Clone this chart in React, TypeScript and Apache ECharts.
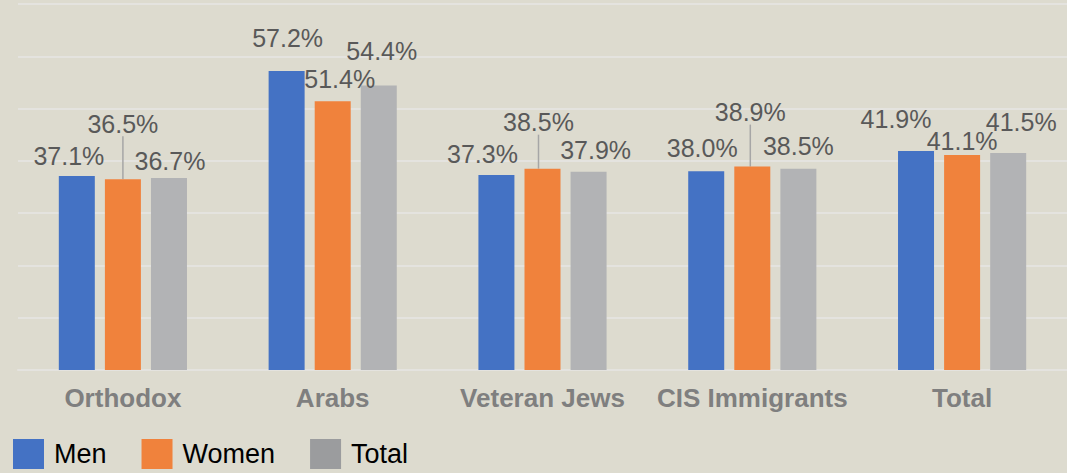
import React, { useEffect, useRef } from "react";
import * as echarts from "echarts";

const categories = ["Orthodox", "Arabs", "Veteran Jews", "CIS Immigrants", "Total"];
const seriesNames = ["Men", "Women", "Total"];
const menValues = [37.1, 57.2, 37.3, 38.0, 41.9];
const womenValues = [36.5, 51.4, 38.5, 38.9, 41.1];
const totalValues = [36.7, 54.4, 37.9, 38.5, 41.5];

// label nudges (dx, dy) per bar, as moved by hand in the original
const menLabelNudge = [[-8, -3], [1, -15], [-14, -3], [-4, -6], [-20, -14]];
const womenLabelNudge = [[0, -38], [7, -5], [-4, -29], [-2, -37], [0, 3]];
const totalLabelNudge = [[1, 0], [3, -17], [7, -4], [0, -5], [13, -14]];
const womenLeader = [true, false, true, true, false];

const barColors = ["#4472c4", "#f0823c", "#b2b3b5"];
const legendColors = ["#4472c4", "#f0823c", "#9b9c9e"];

export default function App() {
  const ref = useRef<HTMLDivElement>(null);
  useEffect(() => {
    document.body.style.margin = "0";
    const chart = echarts.init(ref.current!, undefined, { renderer: "svg" });
    const font = "'Liberation Sans', Arial, sans-serif";
    const values = [menValues, womenValues, totalValues];
    const nudges = [menLabelNudge, womenLabelNudge, totalLabelNudge];
    const series = seriesNames.map((name, si) => ({
      name,
      type: "bar",
      barWidth: 36,
      barGap: "28%",
      itemStyle: { color: barColors[si] },
      label: {
        show: true,
        position: "top",
        distance: 5,
        fontSize: 25,
        fontFamily: font,
        color: "#595959",
        formatter: (p: any) => p.value.toFixed(1) + "%",
      },
      labelLine: si === 1 ? { show: true, lineStyle: { color: "#a6a6a6", width: 1.5 } } : { show: false },
      labelLayout: (p: any) => {
        const n = nudges[si][p.dataIndex];
        return { dx: n[0], dy: n[1] };
      },
      data: values[si].map((v, i) =>
        si === 1 ? { value: v, labelLine: { show: womenLeader[i] } } : { value: v }
      ),
    }));
    chart.setOption({
      animation: false,
      backgroundColor: "#dddbcf",
      textStyle: { fontFamily: font },
      grid: { left: 18, right: 0, top: 4, bottom: 103, containLabel: false },
      legend: {
        left: 8,
        top: 434,
        itemWidth: 31,
        itemHeight: 30,
        itemGap: 35,
        icon: "rect",
        textStyle: { fontSize: 27, color: "#000", fontFamily: font, padding: [0, 0, 0, 5] },
        data: seriesNames.map((n, i) => ({ name: n, itemStyle: { color: legendColors[i] } })),
      },
      xAxis: {
        type: "category",
        data: categories,
        axisTick: { show: false },
        axisLine: { show: true, lineStyle: { color: "#e4e3df", width: 2 } },
        axisLabel: { interval: 0, fontSize: 26, fontWeight: "bold", color: "#7f7f7f", margin: 15, fontFamily: font },
      },
      yAxis: {
        type: "value",
        min: 0,
        max: 70,
        interval: 10,
        axisLabel: { show: false },
        axisLine: { show: false },
        axisTick: { show: false },
        splitLine: { show: true, lineStyle: { color: "#e4e3df", width: 2 } },
      },
      series,
    });
    return () => chart.dispose();
  }, []);
  return <div ref={ref} style={{ width: 1067, height: 473 }} />;
}
